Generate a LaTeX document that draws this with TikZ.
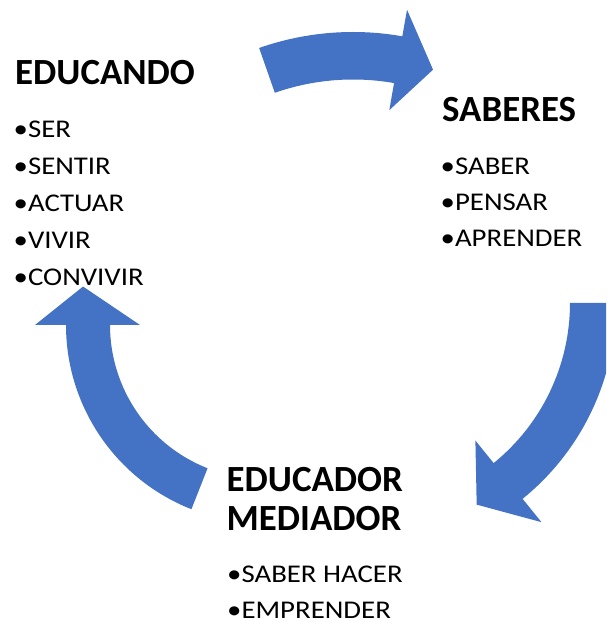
\documentclass[tikz,border=0pt]{standalone}
\usepackage{fontspec}
\setmainfont{Carlito}
\newfontfamily\itemfont[FakeStretch=1.13]{Carlito}
\usetikzlibrary{calc}
\definecolor{flecha}{HTML}{4472C4}

\begin{document}
\begin{tikzpicture}[x=1pt,y=1pt,
  titulo/.style={anchor=base west,inner sep=0pt,font=\fontsize{36.9}{39}\selectfont\bfseries},
  punto/.style={anchor=base west,inner sep=0pt,font=\itemfont\fontsize{25.5}{37}\selectfont}]

\clip (0,0) rectangle (606,622);

% ===== flecha superior (EDUCANDO -> SABERES) =====
\def\Ri{236.5}  % radio interior
\def\Ro{284}    % radio exterior
\def\aC{109.3}  % angulo de la cola
\def\aN{80}     % angulo del cuello
\coordinate (c1) at (353,306);
\fill[flecha] ($(c1)+(\aC:\Ro)$) arc[start angle=\aC,end angle=\aN,radius=\Ro pt]
  -- ($(c1)+(\aN:311)$) -- ($(c1)+(72:259)$) -- ($(c1)+(\aN:209)$)
  -- ($(c1)+(\aN:\Ri)$) arc[start angle=\aN,end angle=\aC,radius=\Ri pt] -- cycle;

% ===== flecha derecha (SABERES -> EDUCADOR) =====
\def\Ri{206}
\def\Ro{252}
\def\aC{0}
\def\aN{-51}
\coordinate (c2) at (364,319);
\fill[flecha] ($(c2)+(\aC:\Ro)$) arc[start angle=\aC,end angle=\aN,radius=\Ro pt]
  -- ($(c2)+(\aN:282)$) -- ($(c2)+(-60.8:231)$) -- ($(c2)+(\aN:177)$)
  -- ($(c2)+(\aN:\Ri)$) arc[start angle=\aN,end angle=\aC,radius=\Ri pt] -- cycle;

% ===== flecha izquierda (EDUCADOR -> EDUCANDO) =====
\def\Ri{154}
\def\Ro{198}
\def\aC{248.5}
\def\aN{180}
\coordinate (c3) at (264,297);
\fill[flecha] ($(c3)+(\aC:\Ro)$) arc[start angle=\aC,end angle=\aN,radius=\Ro pt]
  -- ($(c3)+(\aN:229)$) -- ($(c3)+(168:185)$) -- ($(c3)+(\aN:124)$)
  -- ($(c3)+(\aN:\Ri)$) arc[start angle=\aN,end angle=\aC,radius=\Ri pt] -- cycle;

% ===== textos =====
\node[titulo] (educando) at (15,537.7) {EDUCANDO};
\node[punto] (ser)      at (13.5,484.5) {•SER};
\node[punto] (sentir)   at (13.5,447.5) {•SENTIR};
\node[punto] (actuar)   at (13.5,410.5) {•ACTUAR};
\node[punto] (vivir)    at (13.5,373.5) {•VIVIR};
\node[punto] (convivir) at (13.5,336.5) {•CONVIVIR};

\node[titulo] (saberes) at (442,500.3) {SABERES};
\node[punto] (saber)    at (440.5,447) {•SABER};
\node[punto] (pensar)   at (440.5,411) {•PENSAR};
\node[punto] (aprender) at (440.5,375) {•APRENDER};

\node[titulo] (educador) at (226.5,130.3) {EDUCADOR};
\node[titulo] (mediador) at (226.5,91) {MEDIADOR};
\node[punto] (hacer)     at (227,39.3) {•SABER HACER};
\node[punto] (emprender) at (227,4) {•EMPRENDER};

\end{tikzpicture}
\end{document}
